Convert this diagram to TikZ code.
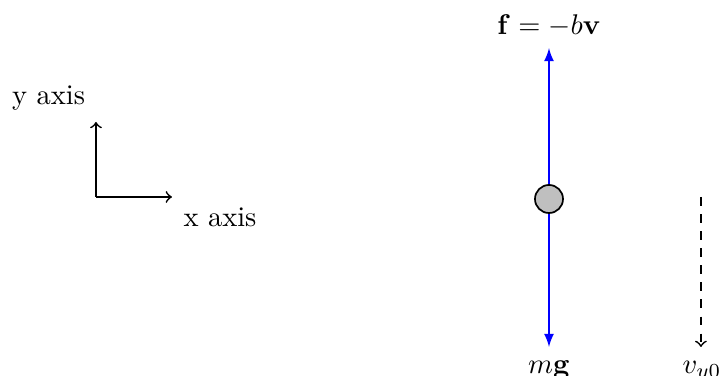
\documentclass[tikz,border=0pt]{standalone}
\usetikzlibrary{arrows}
\begin{document}
\begin{tikzpicture}[semithick]

        \useasboundingbox (0,0) rectangle (8.877,4.642);

        % axes
        \coordinate (o)  at (1.185,2.21);
        \coordinate (ox) at (2.123,2.21);
        \coordinate (oy) at (1.185,3.136);
        \node[anchor=base] (ylab) at (0.599,3.346) {y axis};
        \node[anchor=base] (xlab) at (2.716,1.84)  {x axis};
        \draw[->] (o) -- (ox);
        \draw[->] (o) -- (oy);

        % forces on the ball
        \node[circle,draw,fill=gray!50,minimum size=0.346cm,inner sep=0pt] (ball) at (6.778,2.185) {};
        \coordinate (up)   at (6.778,4.049);
        \coordinate (down) at (6.778,0.358);
        \node[anchor=base] (flab) at (6.778,4.21) {$\mathbf{f}=-b\mathbf{v}$};
        \node[anchor=base] (mg)   at (6.778,0.03) {$m\mathbf{g}$};

        \begin{scope}[every path/.style={draw,blue,-latex}]
          \path (ball) -- (up);
          \path (ball) -- (down);
        \end{scope}

        % initial velocity
        \coordinate (v0) at (8.654,2.21);
        \coordinate (v1) at (8.654,0.358);
        \node[anchor=base] (vlab) at (8.667,0.03) {$v_{y0}$};
        \draw[dashed,->] (v0) -- (v1);

      \end{tikzpicture}
\end{document}
